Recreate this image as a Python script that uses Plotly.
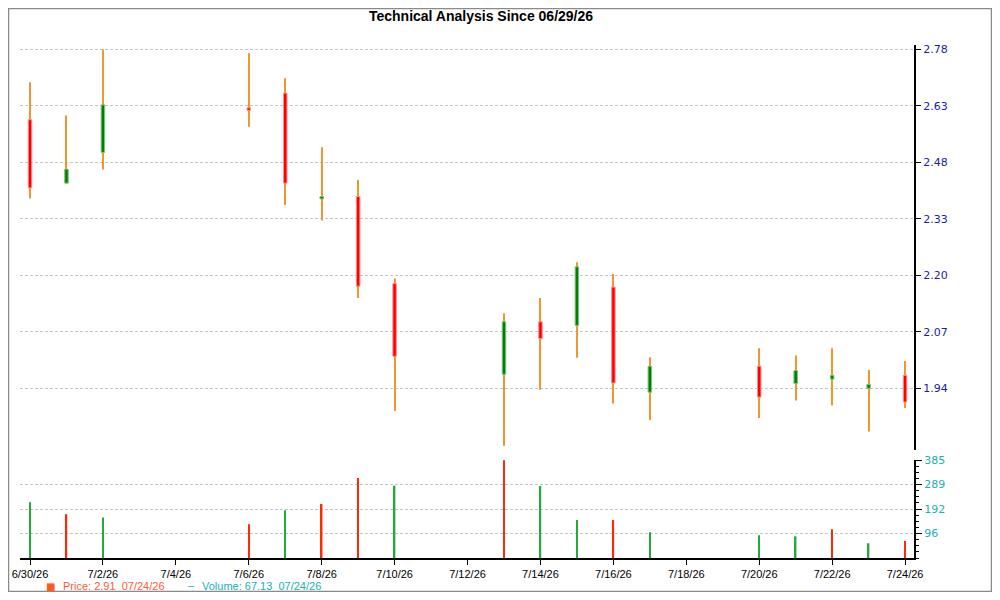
"""
Technical analysis chart: candlesticks + volume
"""

import plotly.graph_objects as go

# ---- data ----
dates = ['2026-06-30', '2026-07-01', '2026-07-02', '2026-07-06', '2026-07-07',
         '2026-07-08', '2026-07-09', '2026-07-10', '2026-07-13', '2026-07-14',
         '2026-07-15', '2026-07-16', '2026-07-17', '2026-07-20', '2026-07-21',
         '2026-07-22', '2026-07-23', '2026-07-24']
open_ = [2.580, 2.412, 2.492, 2.613, 2.654, 2.372, 2.378, 2.168, 1.969, 2.082,
         2.074, 2.160, 1.932, 1.986, 1.950, 1.959, 1.940, 1.967]
high = [2.685, 2.592, 2.780, 2.769, 2.696, 2.506, 2.420, 2.180, 2.101, 2.135,
        2.218, 2.190, 2.005, 2.024, 2.009, 2.024, 1.978, 1.997]
low = [2.373, 2.412, 2.447, 2.561, 2.357, 2.318, 2.135, 1.894, 1.825, 1.937,
       2.004, 1.909, 1.876, 1.880, 1.915, 1.905, 1.853, 1.900]
close = [2.400, 2.448, 2.621, 2.606, 2.412, 2.378, 2.162, 2.007, 2.082, 2.045,
         2.207, 1.951, 1.986, 1.922, 1.977, 1.967, 1.948, 1.912]
volume = [219, 172, 159, 133, 188, 212, 314, 284, 384, 283,
          149, 149, 101, 89, 85, 113, 58, 67]
volume_dir = ['up', 'down', 'up', 'down', 'up', 'down', 'down', 'up', 'down', 'up',
              'up', 'down', 'up', 'up', 'up', 'down', 'up', 'down']

price_ticks = ['1.94', '2.07', '2.20', '2.33', '2.48', '2.63', '2.78']
volume_ticks = ['96', '192', '289', '385']
volume_max = 385

title_text = 'Technical Analysis Since 06/29/26'
legend_price = 'Price: 2.91  07/24/26'
legend_volume = 'Volume: 67.13  07/24/26'

# ---- geometry: figure sits inside the page's 8px body margin ----
OFF = 8
W, H = 1000 - 2 * OFF, 600 - 2 * OFF
ML, MR, MT, MB = 12, 78, 32, 34
PW, PH = W - ML - MR, H - MT - MB


def px_x(px):
    # page pixel -> paper x
    return (px - OFF - ML) / PW


def px_y(py):
    # page pixel -> paper y
    return (H - MB - (py - OFF)) / PH


DAY_MS = 86400000
day_px = 36.46

# ---- colours ----
up_body, up_edge = '#008000', '#80c080'
down_body, down_edge = '#ff0000', '#ff9090'
wick_color = '#f0962e'
vol_colors = {'up': '#22aa3a', 'down': '#ff2a00'}

body_base = [min(o, c) for o, c in zip(open_, close)]
body_size = [abs(c - o) for o, c in zip(open_, close)]
is_up = [c >= o for o, c in zip(open_, close)]

fig = go.Figure()

# wicks (narrow bars under the bodies)
fig.add_trace(go.Bar(
    x=dates, y=[h - l for h, l in zip(high, low)], base=low,
    width=1.2 / day_px * DAY_MS,
    marker=dict(color=wick_color, line=dict(width=0)),
    hoverinfo='skip', showlegend=False
))

# bodies
fig.add_trace(go.Bar(
    x=dates, y=body_size, base=body_base,
    width=3.5 / day_px * DAY_MS,
    marker=dict(color=[up_body if u else down_body for u in is_up],
                line=dict(color=[up_edge if u else down_edge for u in is_up], width=1)),
    showlegend=False
))

# volume
fig.add_trace(go.Bar(
    x=dates, y=volume, yaxis='y2',
    width=1.5 / day_px * DAY_MS,
    marker=dict(color=[vol_colors[d] for d in volume_dir], line=dict(width=0)),
    showlegend=False
))

# price axis is logarithmic: ticks evenly spaced between first and last label
p0, p1 = float(price_ticks[0]), float(price_ticks[-1])
n = len(price_ticks) - 1
price_tickvals = [p0 * (p1 / p0) ** (k / n) for k in range(n + 1)]

grid = dict(showgrid=True, gridcolor='#c4c4c4', gridwidth=1, griddash='3px,2px')

fig.update_layout(
    width=W, height=H,
    margin=dict(l=ML, r=MR, t=MT, b=MB),
    paper_bgcolor='white', plot_bgcolor='white',
    showlegend=False, barmode='overlay',
    title=dict(text='<b>' + title_text + '</b>', x=(481 - OFF) / W, xref='container',
               xanchor='center', y=1 - 8.5 / H, yref='container', yanchor='middle',
               font=dict(family='Liberation Sans, Arial', size=14, color='black')),
    xaxis=dict(
        type='date', anchor='y2', automargin=False,
        range=['2026-06-29 17:25', '2026-07-24 05:53'],
        tick0='2026-06-30', dtick=2 * DAY_MS, tickformat='%-m/%-d/%y',
        showline=True, linecolor='black', linewidth=2,
        ticks='outside', ticklen=5, tickcolor='black',
        tickfont=dict(family='Liberation Sans, Arial', size=11, color='black'),
        showgrid=False, zeroline=False
    ),
    yaxis=dict(
        type='log', domain=[px_y(450), px_y(45)], anchor='x', side='right',
        automargin=False, range=[0.25936, 0.44607],
        tickmode='array', tickvals=price_tickvals, ticktext=price_ticks,
        showline=True, linecolor='black', linewidth=2,
        ticks='outside', ticklen=5, tickcolor='black',
        tickfont=dict(family='DejaVu Sans', size=11, color='#1c1ca8'),
        zeroline=False, **grid
    ),
    yaxis2=dict(
        domain=[0, px_y(460)], anchor='x', side='right',
        automargin=False, range=[0, volume_max],
        tickmode='array',
        tickvals=[volume_max * (k + 1) / len(volume_ticks) for k in range(len(volume_ticks))],
        ticktext=volume_ticks,
        showline=True, linecolor='black', linewidth=2,
        ticks='outside', ticklen=6, tickcolor='black',
        minor=dict(ticks='outside', ticklen=3, tickcolor='black',
                   tick0=0, dtick=volume_max / 16, showgrid=False),
        tickfont=dict(family='DejaVu Sans', size=11, color='#20b0b8'),
        zeroline=False, **grid
    ),
)

# legend drawn as text
fig.add_annotation(x=px_x(50), y=px_y(586), xref='paper', yref='paper',
                   text='■', showarrow=False, xanchor='center', yanchor='middle',
                   font=dict(family='DejaVu Sans', size=10, color='#ff5a1e'))
fig.add_annotation(x=px_x(61), y=px_y(586), xref='paper', yref='paper',
                   text=legend_price, showarrow=False, xanchor='left', yanchor='middle',
                   font=dict(family='Liberation Sans, Arial', size=11, color='#ff5a3c'))
fig.add_annotation(x=px_x(191), y=px_y(585), xref='paper', yref='paper',
                   text='–', showarrow=False, xanchor='center', yanchor='middle',
                   font=dict(family='Liberation Sans, Arial', size=11, color='#20b0b8'))
fig.add_annotation(x=px_x(200), y=px_y(586), xref='paper', yref='paper',
                   text=legend_volume, showarrow=False, xanchor='left', yanchor='middle',
                   font=dict(family='Liberation Sans, Arial', size=11, color='#20b0b8'))

# outer frame along the figure edge
fig.add_shape(type='rect', xref='paper', yref='paper',
              x0=px_x(OFF + 0.5), x1=px_x(OFF + W - 0.5),
              y0=px_y(OFF + H - 0.5), y1=px_y(OFF + 0.5),
              line=dict(color='#8a8a8a', width=1.5), layer='above')

fig.write_html("out.html")
